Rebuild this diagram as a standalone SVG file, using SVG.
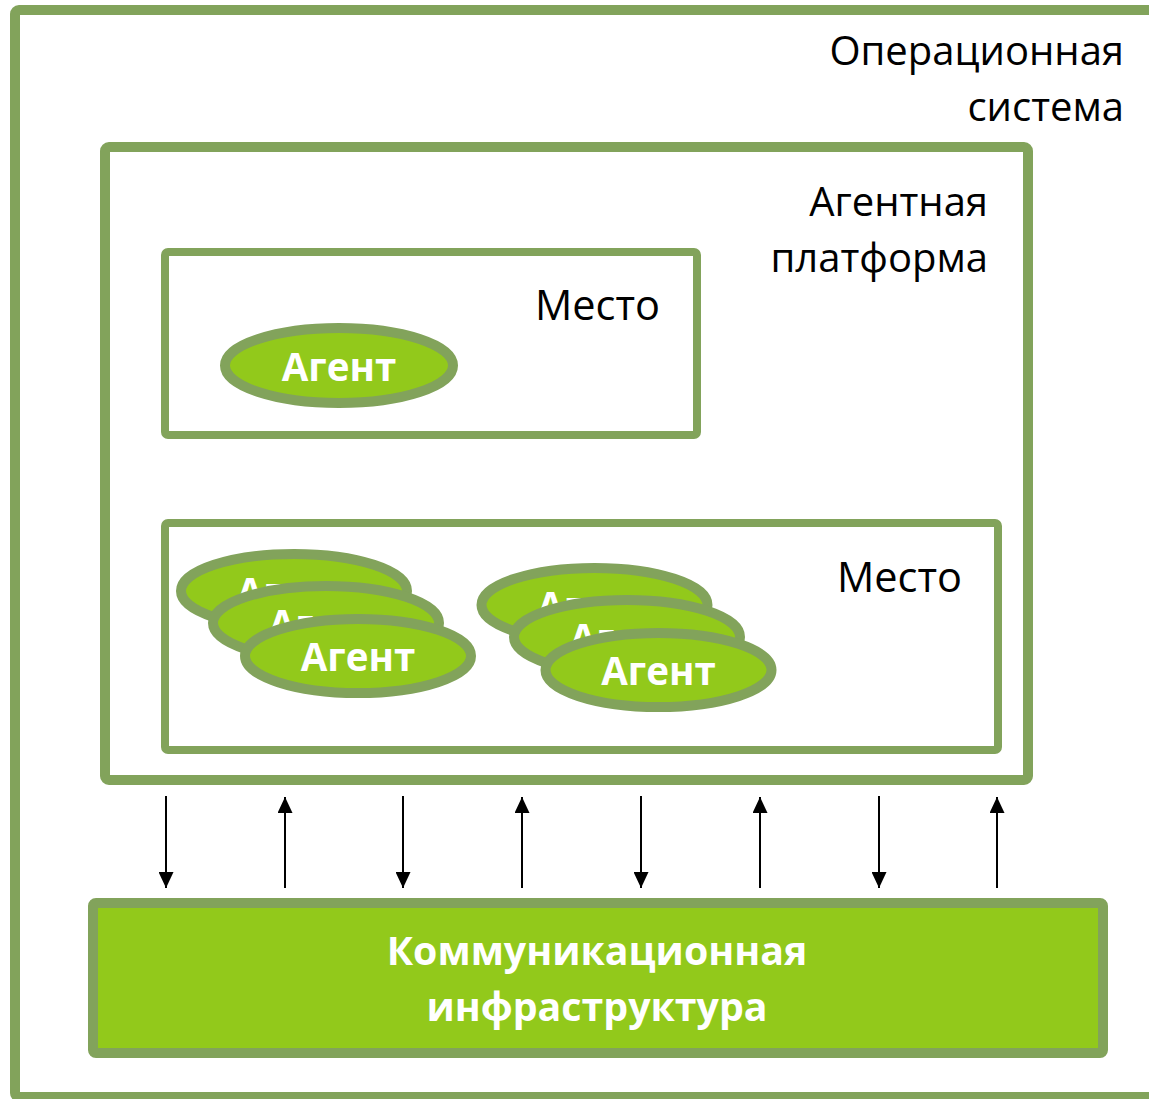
<svg xmlns="http://www.w3.org/2000/svg" width="1149" height="1099" viewBox="0 0 1149 1099">
  <style>
    .frame { fill: #ffffff; stroke: #82a35b; stroke-width: 10; }
    .place { fill: #ffffff; stroke: #82a35b; stroke-width: 8; }
    .agent { fill: #92c91b; stroke: #82a35b; stroke-width: 10; }
    .infra { fill: #92c91b; stroke: #82a35b; stroke-width: 10; }
    .lbl { font-family: "Open Sans", "Noto Sans", sans-serif; font-size: 40px; fill: #000000; text-anchor: end; }
    .big { font-size: 41.5px; }
    .wl { font-family: "Open Sans", "Noto Sans", sans-serif; font-weight: bold; font-size: 38.5px; fill: #ffffff; text-anchor: middle; }
    .wl2 { font-size: 39.3px; }
    .conn line { stroke: #000000; stroke-width: 2; }
  </style>
  <defs>
    <marker id="head" viewBox="0 0 16 15" refX="16" refY="7.5" markerWidth="16" markerHeight="15" markerUnits="userSpaceOnUse" orient="auto">
      <path d="M0,0 L16,7.5 L0,15 Z" fill="#000000"/>
    </marker>
  </defs>

  <!-- operating system -->
  <g id="os">
    <rect class="frame" x="15" y="10" width="1150" height="1087" rx="4"/>
    <text class="lbl" x="1124" y="65">Операционная</text>
    <text class="lbl" x="1124" y="121">система</text>
  </g>

  <!-- agent platform -->
  <g id="platform">
    <rect class="frame" x="105" y="147" width="923" height="633" rx="4"/>
    <text class="lbl" x="988" y="216">Агентная</text>
    <text class="lbl" x="988" y="272">платформа</text>
  </g>

  <!-- first place with one agent -->
  <g id="place1">
    <rect class="place" x="165" y="252" width="532" height="183" rx="3"/>
    <text class="lbl big" x="660" y="320">Место</text>
  </g>
  <g id="agent1">
    <ellipse class="agent" cx="339" cy="365.5" rx="114" ry="37.5"/>
    <text class="wl" x="339" y="381">Агент</text>
  </g>

  <!-- second place with two stacks of agents -->
  <g id="place2">
    <rect class="place" x="165" y="523" width="833" height="227" rx="3"/>
    <text class="lbl big" x="962" y="592">Место</text>
  </g>
  <g id="stack1">
    <ellipse class="agent" cx="294" cy="591" rx="113" ry="37"/>
    <text class="wl" x="294" y="606">Агент</text>
    <ellipse class="agent" cx="326" cy="623" rx="113" ry="37"/>
    <text class="wl" x="326" y="638">Агент</text>
    <ellipse class="agent" cx="358" cy="656" rx="113" ry="37"/>
    <text class="wl" x="358" y="671">Агент</text>
  </g>
  <g id="stack2">
    <ellipse class="agent" cx="594.5" cy="605" rx="113" ry="37"/>
    <text class="wl" x="594.5" y="620">Агент</text>
    <ellipse class="agent" cx="627" cy="637" rx="113" ry="37"/>
    <text class="wl" x="627" y="652">Агент</text>
    <ellipse class="agent" cx="658.5" cy="670" rx="113" ry="37"/>
    <text class="wl" x="658.5" y="685">Агент</text>
  </g>

  <!-- communication infrastructure -->
  <g id="infra">
    <rect class="infra" x="93" y="903" width="1010" height="150" rx="3"/>
    <text class="wl wl2" x="597" y="965">Коммуникационная</text>
    <text class="wl wl2" x="597" y="1021">инфраструктура</text>
  </g>

  <!-- message flow between platform and infrastructure -->
  <g class="conn" id="connectors">
    <line x1="166" y1="796" x2="166" y2="888" marker-end="url(#head)"/>
    <line x1="285" y1="888" x2="285" y2="797" marker-end="url(#head)"/>
    <line x1="403" y1="796" x2="403" y2="888" marker-end="url(#head)"/>
    <line x1="522" y1="888" x2="522" y2="797" marker-end="url(#head)"/>
    <line x1="641" y1="796" x2="641" y2="888" marker-end="url(#head)"/>
    <line x1="760" y1="888" x2="760" y2="797" marker-end="url(#head)"/>
    <line x1="879" y1="796" x2="879" y2="888" marker-end="url(#head)"/>
    <line x1="997" y1="888" x2="997" y2="797" marker-end="url(#head)"/>
  </g>
</svg>
